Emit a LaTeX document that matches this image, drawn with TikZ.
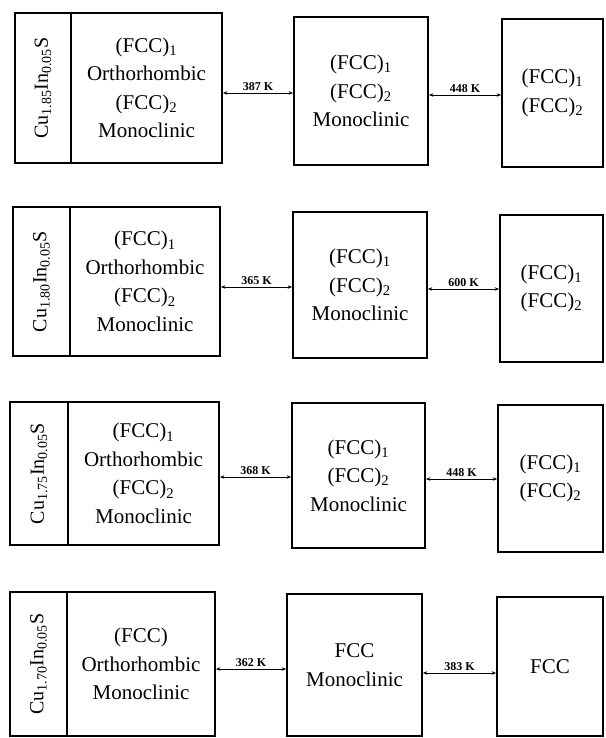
\documentclass[tikz,border=0pt]{standalone}
\usepackage{fontspec}
\setmainfont{Liberation Serif}
\usetikzlibrary{arrows.meta}
\tikzset{
  phasebox/.style={draw, line width=1.7pt, inner sep=0pt, align=center,
    font=\fontsize{21}{28.5}\selectfont},
  namebox/.style={draw, line width=1.7pt, inner sep=0pt},
  nametext/.style={rotate=90, inner sep=0pt, font=\fontsize{20}{22}\selectfont},
  arr/.style={{Stealth[length=4.5pt,width=3.5pt]}-{Stealth[length=4.5pt,width=3.5pt]}, line width=0.9pt},
  tlabel/.style={above=2pt, inner sep=0pt, font=\bfseries\fontsize{12}{14}\selectfont}
}
\newcommand{\sbs}[1]{\textsubscript{#1}}
\begin{document}
\begin{tikzpicture}[x=1pt,y=1pt]
\useasboundingbox (0,0) rectangle (605,-738);

% ---------- Row 1 ----------
\node[namebox, minimum width=56pt, minimum height=150pt] (L1n) at (43,-88) {};
\node[nametext] (T1) at (L1n.center) {Cu\sbs{1.85}In\sbs{0.05}S};
\node[phasebox, minimum width=151pt, minimum height=150pt] (L1c) at (146.5,-88)
  {(FCC)\sbs{1}\\Orthorhombic\\(FCC)\sbs{2}\\Monoclinic};
\node[phasebox, minimum width=134pt, minimum height=148pt] (M1) at (361,-91)
  {(FCC)\sbs{1}\\(FCC)\sbs{2}\\Monoclinic};
\node[phasebox, minimum width=101pt, minimum height=148pt] (R1) at (552.5,-93)
  {(FCC)\sbs{1}\\(FCC)\sbs{2}};
\coordinate (a1) at (0,-93);
\coordinate (b1) at (0,-95);
\draw[arr] (L1c.east |- a1) -- node[tlabel]{387 K} (M1.west |- a1);
\draw[arr] (M1.east |- b1) -- node[tlabel]{448 K} (R1.west |- b1);

% ---------- Row 2 ----------
\node[namebox, minimum width=57pt, minimum height=149pt] (L2n) at (41.5,-281.5) {};
\node[nametext] (T2) at (L2n.center) {Cu\sbs{1.80}In\sbs{0.05}S};
\node[phasebox, minimum width=150pt, minimum height=149pt] (L2c) at (145,-281.5)
  {(FCC)\sbs{1}\\Orthorhombic\\(FCC)\sbs{2}\\Monoclinic};
\node[phasebox, minimum width=134pt, minimum height=146pt] (M2) at (360,-285)
  {(FCC)\sbs{1}\\(FCC)\sbs{2}\\Monoclinic};
\node[phasebox, minimum width=103pt, minimum height=147pt] (R2) at (551.5,-288.5)
  {(FCC)\sbs{1}\\(FCC)\sbs{2}};
\coordinate (a2) at (0,-287);
\coordinate (b2) at (0,-289);
\draw[arr] (L2c.east |- a2) -- node[tlabel]{365 K} (M2.west |- a2);
\draw[arr] (M2.east |- b2) -- node[tlabel]{600 K} (R2.west |- b2);

% ---------- Row 3 ----------
\node[namebox, minimum width=58pt, minimum height=143pt] (L3n) at (39,-473.5) {};
\node[nametext] (T3) at (L3n.center) {Cu\sbs{1.75}In\sbs{0.05}S};
\node[phasebox, minimum width=151pt, minimum height=143pt] (L3c) at (143.5,-473.5)
  {(FCC)\sbs{1}\\Orthorhombic\\(FCC)\sbs{2}\\Monoclinic};
\node[phasebox, minimum width=133pt, minimum height=145pt] (M3) at (358.5,-475.5)
  {(FCC)\sbs{1}\\(FCC)\sbs{2}\\Monoclinic};
\node[phasebox, minimum width=105pt, minimum height=147pt] (R3) at (550.5,-478.5)
  {(FCC)\sbs{1}\\(FCC)\sbs{2}};
\coordinate (a3) at (0,-477);
\coordinate (b3) at (0,-479);
\draw[arr] (L3c.east |- a3) -- node[tlabel]{368 K} (M3.west |- a3);
\draw[arr] (M3.east |- b3) -- node[tlabel]{448 K} (R3.west |- b3);

% ---------- Row 4 ----------
\node[namebox, minimum width=57pt, minimum height=144pt] (L4n) at (38.5,-664) {};
\node[nametext] (T4) at (L4n.center) {Cu\sbs{1.70}In\sbs{0.05}S};
\node[phasebox, minimum width=148pt, minimum height=144pt] (L4c) at (141,-664)
  {(FCC)\\Orthorhombic\\Monoclinic};
\node[phasebox, minimum width=135pt, minimum height=142pt] (M4) at (354.5,-665)
  {FCC\\Monoclinic};
\node[phasebox, minimum width=106pt, minimum height=139pt] (R4) at (550,-666.5)
  {FCC};
\coordinate (a4) at (0,-669);
\coordinate (b4) at (0,-673);
\draw[arr] (L4c.east |- a4) -- node[tlabel]{362 K} (M4.west |- a4);
\draw[arr] (M4.east |- b4) -- node[tlabel]{383 K} (R4.west |- b4);
\end{tikzpicture}
\end{document}
